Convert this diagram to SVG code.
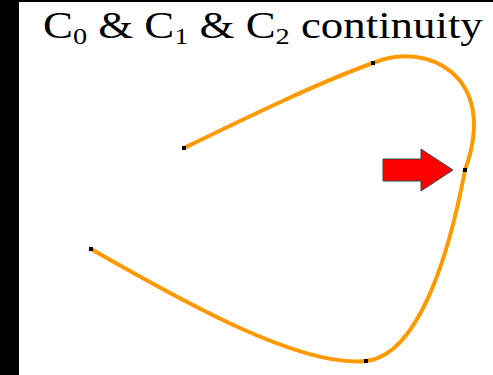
<svg xmlns="http://www.w3.org/2000/svg" width="493" height="375" viewBox="0 0 493 375">
<style>
.t{font-family:"Liberation Serif","Times New Roman",serif;font-size:38px;fill:#000}
.s{font-size:24px}
.curve{fill:none;stroke:#FF9900;stroke-width:4}
.pt{fill:#000}
</style>
<rect x="0" y="0" width="493" height="375" fill="#fff"/>
<rect x="0" y="0" width="19" height="375" fill="#000"/>
<rect x="0" y="0" width="493" height="2" fill="#000"/>
<g id="title" transform="translate(43,0) scale(1.18,1)">
<text class="t" x="0" y="38">C<tspan class="s" dy="6">0</tspan><tspan dy="-6"> &amp; C</tspan><tspan class="s" dy="6">1</tspan><tspan dy="-6"> &amp; C</tspan><tspan class="s" dy="6">2</tspan><tspan dy="-6"> continuity</tspan></text>
</g>
<g id="curve">
<path class="curve" d="M184,148 C250,116 320,82 373,63 C425,40 500,75 465,170 C450,250 420,355 366,361 C300,368 180,300 91,249"/>
</g>
<g id="points">
<rect class="pt" x="182" y="146" width="4" height="4"/>
<rect class="pt" x="371" y="61" width="4" height="4"/>
<rect class="pt" x="463" y="168" width="4" height="4"/>
<rect class="pt" x="364" y="359" width="4" height="4"/>
<rect class="pt" x="89" y="247" width="4" height="4"/>
</g>
<g id="arrow">
<polygon points="383,159 421,159 421,149 453,170 421,191 421,181 383,181" fill="#FF0000" stroke="#2F4F4F" stroke-width="1"/>
</g>
</svg>
